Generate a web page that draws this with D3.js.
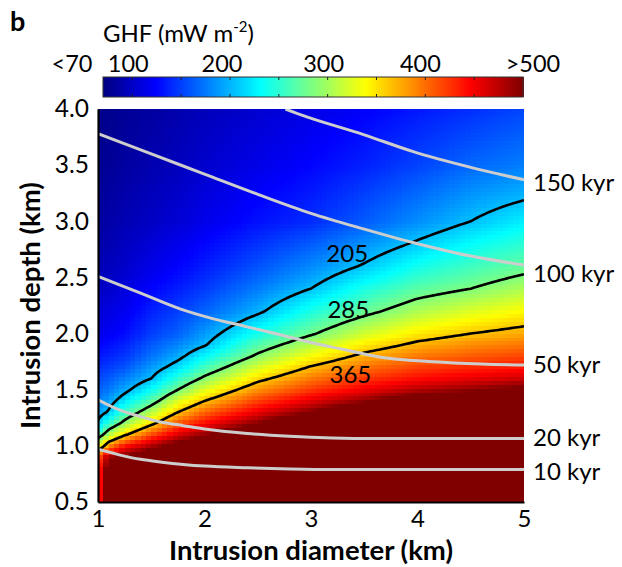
<!DOCTYPE html>
<html>
<head>
<meta charset="utf-8">
<script src="https://cdn.jsdelivr.net/npm/d3@7"></script>
<style>
  html, body { margin: 0; padding: 0; background: #fff; }
  svg { display: block; font-family: Lato, "Open Sans", sans-serif; }
</style>
</head>
<body>
<svg id="chart" width="622" height="567"></svg>
<script>
// ---------------- data ----------------
// intrusion diameters (km) of the grid columns
const diameters = [1.0, 1.05, 1.1, 1.25, 1.5, 1.75, 2.0, 2.5, 3.0, 3.5, 4.0, 4.5, 5.0];
// intrusion depths (km) of the grid rows
const depths = [0.5, 0.7, 0.8, 0.9, 1.0, 1.1, 1.2, 1.3, 1.4, 1.5, 1.6, 1.7, 1.8, 1.9, 2.0,
                2.2, 2.4, 2.6, 2.8, 3.0, 3.25, 3.5, 3.75, 4.0];
// GHF (mW m-2), one row per depth, one value per diameter
const ghf = [
  [430, 470, 600, 700, 800, 850, 900, 1000, 1100, 1200, 1300, 1400, 1500],
  [425, 470, 560, 620, 680, 720, 760, 850, 950, 1000, 1050, 1100, 1150],
  [420, 470, 527, 565, 616, 655, 693, 780, 875, 926, 977, 1024, 1071],
  [395, 450, 485, 511, 551, 591, 627, 710, 800, 853, 903, 948, 991],
  [335, 358, 395, 446, 486, 526, 560, 640, 725, 779, 830, 872, 912],
  [262, 285, 309, 359, 419, 464, 495, 570, 650, 706, 757, 796, 833],
  [210, 232, 254, 297, 356, 413, 446, 500, 575, 632, 683, 720, 754],
  [192, 199, 209, 257, 309, 365, 405, 455, 500, 559, 610, 644, 674],
  [178, 183, 191, 222, 269, 325, 365, 420, 458, 492, 537, 568, 595],
  [165, 170, 175, 196, 237, 285, 329, 388, 426, 454, 481, 496, 516],
  [154, 158, 162, 178, 205, 252, 292, 355, 397, 425, 444, 458, 469],
  [143, 146, 149, 159, 189, 218, 260, 323, 368, 399, 420, 431, 438],
  [133, 135, 138, 146, 172, 196, 230, 291, 338, 373, 396, 409, 418],
  [124, 126, 129, 137, 161, 180, 202, 266, 309, 347, 372, 387, 397],
  [115, 117, 120, 128, 150, 165, 190, 241, 281, 321, 349, 365, 377],
  [107, 109, 111, 118, 137, 150, 165, 199, 243, 275, 305, 325, 340],
  [99, 100, 102, 109, 124, 135, 148, 176, 205, 242, 269, 285, 305],
  [93, 94, 96, 102, 114, 124, 135, 158, 182, 208, 239, 258, 274],
  [88, 89, 91, 97, 107, 115, 125, 144, 162, 185, 209, 232, 250],
  [84, 85, 87, 92, 99, 106, 115, 130, 142, 162, 184, 205, 226],
  [81, 82, 84, 88, 95, 101, 109, 122, 134, 150, 168, 186, 198],
  [78, 79, 80, 84, 90, 96, 103, 114, 125, 137, 152, 167, 177],
  [76, 77, 78, 82, 87, 93, 99, 109, 119, 130, 143, 155, 165],
  [74, 75, 76, 79, 84, 89, 95, 104, 113, 122, 133, 143, 153]
];
// black GHF contour levels
const contourLevels = [205, 285, 365];
// grey time lines: [diameter, depth] points
const timeLabels = ["10 kyr", "20 kyr", "50 kyr", "100 kyr", "150 kyr"];
const timeLines = [
  [[1.0, 0.97], [1.2, 0.92], [1.4, 0.88], [1.6, 0.855], [1.8, 0.835], [2.0, 0.82], [2.4, 0.805], [2.8, 0.795], [3.2, 0.79], [4.0, 0.79], [5.0, 0.79]],
  [[1.0, 1.41], [1.2, 1.32], [1.4, 1.26], [1.6, 1.21], [1.8, 1.18], [2.0, 1.15], [2.4, 1.11], [2.8, 1.085], [3.2, 1.07], [3.6, 1.065], [5.0, 1.065]],
  [[1.0, 2.51], [1.4, 2.36], [1.77, 2.22], [2.05, 2.14], [2.4, 2.06], [2.71, 1.99], [3.0, 1.92], [3.3, 1.86], [3.65, 1.79], [4.15, 1.75], [4.6, 1.73], [5.0, 1.72]],
  [[1.0, 3.78], [1.5, 3.6], [2.0, 3.42], [2.5, 3.24], [3.0, 3.07], [3.5, 2.93], [4.0, 2.8], [4.5, 2.69], [5.0, 2.61]],
  [[2.76, 4.0], [2.9, 3.95], [3.5, 3.77], [3.96, 3.62], [4.5, 3.48], [5.0, 3.37]]
];
// axis ticks
const xTicks = [1, 2, 3, 4, 5];
const yTicks = [0.5, 1.0, 1.5, 2.0, 2.5, 3.0, 3.5, 4.0];
// colour bar
const cbarDomain = [70, 500];
const cbarTicks = [100, 150, 200, 250, 300, 350, 400, 450];
const cbarLabels = ["<70", "100", "200", "300", "400", ">500"];
const cbarLabelValues = [70, 100, 200, 300, 400, 500];

// ---------------- helpers ----------------
function jet(t) {
  const c = v => Math.max(0, Math.min(1, v));
  const r = c(1.5 - Math.abs(4 * t - 3));
  const g = c(1.5 - Math.abs(4 * t - 2));
  const b = c(1.5 - Math.abs(4 * t - 1));
  return d3.rgb(r * 255, g * 255, b * 255).formatHex();
}
const color = d3.scaleSequential(jet).domain(cbarDomain).clamp(true);

function field(xv, zv) {
  const nI = diameters.length, nJ = depths.length;
  const i = Math.max(0, Math.min(nI - 2, d3.bisectRight(diameters, xv) - 1));
  const j = Math.max(0, Math.min(nJ - 2, d3.bisectRight(depths, zv) - 1));
  const tx = (xv - diameters[i]) / (diameters[i + 1] - diameters[i]);
  const tz = (zv - depths[j]) / (depths[j + 1] - depths[j]);
  const a = ghf[j][i] * (1 - tx) + ghf[j][i + 1] * tx;
  const b = ghf[j + 1][i] * (1 - tx) + ghf[j + 1][i + 1] * tx;
  return a * (1 - tz) + b * tz;
}

// ---------------- layout ----------------
const svg = d3.select("#chart");
const x = d3.scaleLinear().domain([1, 5]).range([98, 524]);
const y = d3.scaleLinear().domain([0.5, 4.0]).range([502, 109]);

svg.append("defs").append("clipPath").attr("id", "clip")
  .append("rect").attr("x", x(1)).attr("y", y(4)).attr("width", x(5) - x(1)).attr("height", y(0.5) - y(4));

const plot = svg.append("g").attr("clip-path", "url(#clip)");

// heat map cells
const dx = 0.05, dz = 0.035;
const cells = [];
for (let xi = 1; xi < 5 - 1e-9; xi += dx) {
  for (let zi = 0.5; zi < 4 - 1e-9; zi += dz) {
    cells.push({ x0: xi, z0: zi, v: field(xi + dx / 2, Math.min(4, zi + dz / 2)) });
  }
}
plot.append("g").selectAll("rect").data(cells).join("rect")
  .attr("x", d => x(d.x0))
  .attr("y", d => y(Math.min(4, d.z0 + dz)))
  .attr("width", d => x(d.x0 + dx) - x(d.x0) + 0.6)
  .attr("height", d => y(d.z0) - y(Math.min(4, d.z0 + dz)) + 0.6)
  .attr("fill", d => color(d.v))
  .attr("shape-rendering", "crispEdges");

// contour lines (scan each column from the top down)
function isoline(level) {
  const pts = [];
  for (let xi = 1; xi <= 5.0001; xi += 0.02) {
    let prevZ = 4, prevV = field(xi, 4);
    for (let zi = 4 - 0.005; zi >= 0.5; zi -= 0.005) {
      const v = field(xi, zi);
      if (prevV < level && v >= level) {
        const t = (level - prevV) / (v - prevV);
        pts.push([xi, prevZ + (zi - prevZ) * t]);
        break;
      }
      prevZ = zi; prevV = v;
    }
  }
  return pts;
}
const line = d3.line().x(d => x(d[0])).y(d => y(d[1]));
plot.append("g").selectAll("path").data(contourLevels.map(isoline)).join("path")
  .attr("d", line).attr("fill", "none").attr("stroke", "#000").attr("stroke-width", 2.6);

// grey time lines
const curve = d3.line().x(d => x(d[0])).y(d => y(d[1])).curve(d3.curveMonotoneX);
plot.append("g").selectAll("path").data(timeLines).join("path")
  .attr("d", curve).attr("fill", "none").attr("stroke", "#cdcdcd").attr("stroke-width", 3);

// contour labels
const contourLabelPos = [[3.34, 2.71], [3.35, 2.22], [3.37, 1.64]];
svg.append("g").selectAll("text").data(contourLevels).join("text")
  .attr("x", (d, i) => x(contourLabelPos[i][0]))
  .attr("y", (d, i) => y(contourLabelPos[i][1]))
  .attr("text-anchor", "middle").attr("dy", "0.36em")
  .attr("font-size", 24).attr("fill", "#000").text(d => d);

// time line labels at the right end
const labelOffsets = [2, -1, -1, 8, 3];
svg.append("g").selectAll("text").data(timeLines).join("text")
  .attr("x", x(5) + 9)
  .attr("y", (d, i) => y(d[d.length - 1][1]) + labelOffsets[i])
  .attr("dy", "0.36em").attr("font-size", 24).attr("fill", "#000")
  .text((d, i) => timeLabels[i]);

// axes
const yAxis = d3.axisLeft(y).tickValues(yTicks).tickSize(0).tickPadding(9).tickFormat(d3.format(".1f"));
const xAxis = d3.axisBottom(x).tickValues(xTicks).tickSize(0).tickPadding(8).tickFormat(d3.format("d"));
const gy = svg.append("g").attr("transform", `translate(${x(1)},0)`).call(yAxis);
const gx = svg.append("g").attr("transform", `translate(0,${y(0.5)})`).call(xAxis);
[gx, gy].forEach(g => {
  g.select(".domain").attr("stroke", "#000").attr("stroke-width", 2.2);
  g.selectAll("text").attr("font-size", 24.5).attr("fill", "#000").attr("font-family", "Lato, sans-serif");
});
gx.selectAll("text").attr("font-size", 24);

svg.append("text").attr("x", (x(1) + x(5)) / 2).attr("y", 560)
  .attr("text-anchor", "middle").attr("font-weight", "bold").attr("font-size", 27.5)
  .text("Intrusion diameter (km)");
svg.append("text").attr("transform", `translate(40,${(y(0.5) + y(4)) / 2}) rotate(-90)`)
  .attr("text-anchor", "middle").attr("font-weight", "bold").attr("font-size", 27.5)
  .text("Intrusion depth (km)");

// panel letter
svg.append("text").attr("x", 10).attr("y", 31).attr("font-weight", "bold").attr("font-size", 27).text("b");

// colour bar
const cx = d3.scaleLinear().domain(cbarDomain).range([103, 523]);
const cbY = 77, cbH = 20;
const cbSteps = d3.range(cbarDomain[0], cbarDomain[1], 1);
const cb = svg.append("g");
cb.selectAll("rect").data(cbSteps).join("rect")
  .attr("x", d => cx(d)).attr("y", cbY)
  .attr("width", d => cx(Math.min(d + 1, 500)) - cx(d) + 0.5).attr("height", cbH)
  .attr("fill", d => color(d + 0.5)).attr("shape-rendering", "crispEdges");
cb.append("rect").attr("x", cx(70)).attr("y", cbY).attr("width", cx(500) - cx(70)).attr("height", cbH)
  .attr("fill", "none").attr("stroke", "#333").attr("stroke-width", 1);
cb.selectAll("line.t1").data(cbarTicks).join("line").attr("class", "t1")
  .attr("x1", d => cx(d)).attr("x2", d => cx(d)).attr("y1", cbY).attr("y2", cbY + 3)
  .attr("stroke", "#222").attr("stroke-width", 1);
cb.selectAll("line.t2").data(cbarTicks).join("line").attr("class", "t2")
  .attr("x1", d => cx(d)).attr("x2", d => cx(d)).attr("y1", cbY + cbH - 3).attr("y2", cbY + cbH)
  .attr("stroke", "#222").attr("stroke-width", 1);
const cbLabelShift = [-31, -4, -8, -4, -5, 10];
cb.selectAll("text").data(cbarLabels).join("text")
  .attr("x", (d, i) => cx(cbarLabelValues[i]) + cbLabelShift[i])
  .attr("y", 72).attr("text-anchor", "middle").attr("font-size", 23.5).text(d => d);

const title = svg.append("text").attr("x", 103).attr("y", 42).attr("font-size", 24);
title.append("tspan").text("GHF (mW m");
title.append("tspan").attr("dy", -10).attr("font-size", 15).text("-2");
title.append("tspan").attr("dy", 10).text(")");
</script>
</body>
</html>
